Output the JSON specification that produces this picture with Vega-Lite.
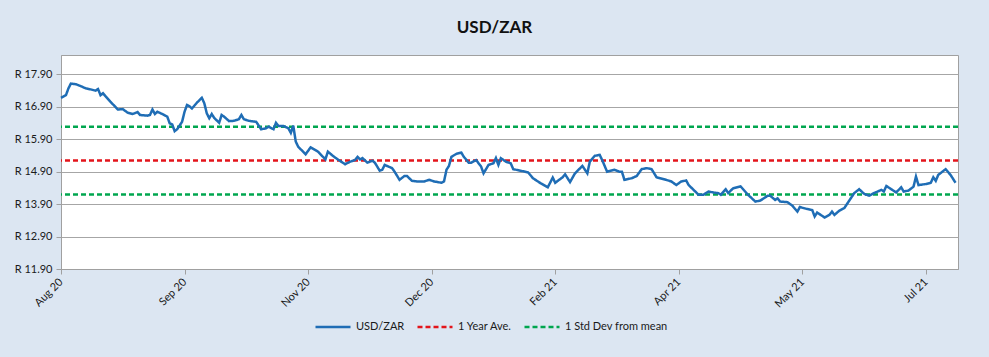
{
  "$schema": "https://vega.github.io/schema/vega-lite/v6.json",
  "width": 897,
  "height": 214,
  "autosize": {"type": "none"},
  "padding": {"left": 61, "top": 55, "right": 31, "bottom": 88},
  "background": "#dce6f2",
  "title": {"text": "USD/ZAR", "font": "Lato", "fontSize": 17, "fontWeight": "bold", "color": "#111111", "anchor": "middle", "offset": 18, "dx": -15},
  "config": {
    "font": "Lato",
    "view": {"fill": "white", "stroke": "#a0a0a0", "strokeWidth": 1}
  },
  "datasets": {
    "levels": [
      {"series": "1 Year Ave.", "value": 15.25},
      {"series": "1 Std Dev from mean", "value": 16.29},
      {"series": "1 Std Dev from mean", "value": 14.20}
    ],
    "fx": [
      {"date": "2020-08-03", "USD/ZAR": 17.18},
      {"date": "2020-08-05", "USD/ZAR": 17.26},
      {"date": "2020-08-06", "USD/ZAR": 17.47},
      {"date": "2020-08-07", "USD/ZAR": 17.62},
      {"date": "2020-08-09", "USD/ZAR": 17.60},
      {"date": "2020-08-11", "USD/ZAR": 17.54},
      {"date": "2020-08-13", "USD/ZAR": 17.47},
      {"date": "2020-08-15", "USD/ZAR": 17.44},
      {"date": "2020-08-17", "USD/ZAR": 17.40},
      {"date": "2020-08-18", "USD/ZAR": 17.45},
      {"date": "2020-08-19", "USD/ZAR": 17.26},
      {"date": "2020-08-20", "USD/ZAR": 17.32},
      {"date": "2020-08-21", "USD/ZAR": 17.23},
      {"date": "2020-08-23", "USD/ZAR": 17.06},
      {"date": "2020-08-26", "USD/ZAR": 16.82},
      {"date": "2020-08-28", "USD/ZAR": 16.83},
      {"date": "2020-08-30", "USD/ZAR": 16.72},
      {"date": "2020-09-01", "USD/ZAR": 16.68},
      {"date": "2020-09-03", "USD/ZAR": 16.74},
      {"date": "2020-09-04", "USD/ZAR": 16.65},
      {"date": "2020-09-07", "USD/ZAR": 16.63},
      {"date": "2020-09-08", "USD/ZAR": 16.65},
      {"date": "2020-09-09", "USD/ZAR": 16.82},
      {"date": "2020-09-10", "USD/ZAR": 16.68},
      {"date": "2020-09-11", "USD/ZAR": 16.75},
      {"date": "2020-09-13", "USD/ZAR": 16.68},
      {"date": "2020-09-15", "USD/ZAR": 16.60},
      {"date": "2020-09-16", "USD/ZAR": 16.39},
      {"date": "2020-09-17", "USD/ZAR": 16.36},
      {"date": "2020-09-18", "USD/ZAR": 16.15},
      {"date": "2020-09-19", "USD/ZAR": 16.21},
      {"date": "2020-09-21", "USD/ZAR": 16.44},
      {"date": "2020-09-22", "USD/ZAR": 16.75},
      {"date": "2020-09-23", "USD/ZAR": 16.96},
      {"date": "2020-09-24", "USD/ZAR": 16.92},
      {"date": "2020-09-25", "USD/ZAR": 16.85},
      {"date": "2020-09-27", "USD/ZAR": 17.03},
      {"date": "2020-09-29", "USD/ZAR": 17.18},
      {"date": "2020-09-30", "USD/ZAR": 17.01},
      {"date": "2020-10-01", "USD/ZAR": 16.70},
      {"date": "2020-10-02", "USD/ZAR": 16.55},
      {"date": "2020-10-03", "USD/ZAR": 16.68},
      {"date": "2020-10-04", "USD/ZAR": 16.56},
      {"date": "2020-10-06", "USD/ZAR": 16.41},
      {"date": "2020-10-07", "USD/ZAR": 16.65},
      {"date": "2020-10-08", "USD/ZAR": 16.60},
      {"date": "2020-10-10", "USD/ZAR": 16.46},
      {"date": "2020-10-12", "USD/ZAR": 16.47},
      {"date": "2020-10-14", "USD/ZAR": 16.52},
      {"date": "2020-10-15", "USD/ZAR": 16.65},
      {"date": "2020-10-16", "USD/ZAR": 16.52},
      {"date": "2020-10-18", "USD/ZAR": 16.47},
      {"date": "2020-10-21", "USD/ZAR": 16.44},
      {"date": "2020-10-23", "USD/ZAR": 16.21},
      {"date": "2020-10-25", "USD/ZAR": 16.24},
      {"date": "2020-10-26", "USD/ZAR": 16.29},
      {"date": "2020-10-28", "USD/ZAR": 16.21},
      {"date": "2020-10-29", "USD/ZAR": 16.41},
      {"date": "2020-10-30", "USD/ZAR": 16.31},
      {"date": "2020-11-01", "USD/ZAR": 16.31},
      {"date": "2020-11-03", "USD/ZAR": 16.24},
      {"date": "2020-11-04", "USD/ZAR": 16.10},
      {"date": "2020-11-05", "USD/ZAR": 16.32},
      {"date": "2020-11-06", "USD/ZAR": 15.83},
      {"date": "2020-11-07", "USD/ZAR": 15.67},
      {"date": "2020-11-10", "USD/ZAR": 15.44},
      {"date": "2020-11-12", "USD/ZAR": 15.65},
      {"date": "2020-11-15", "USD/ZAR": 15.52},
      {"date": "2020-11-18", "USD/ZAR": 15.28},
      {"date": "2020-11-19", "USD/ZAR": 15.52},
      {"date": "2020-11-21", "USD/ZAR": 15.39},
      {"date": "2020-11-23", "USD/ZAR": 15.28},
      {"date": "2020-11-26", "USD/ZAR": 15.13},
      {"date": "2020-11-28", "USD/ZAR": 15.21},
      {"date": "2020-11-30", "USD/ZAR": 15.26},
      {"date": "2020-12-01", "USD/ZAR": 15.36},
      {"date": "2020-12-02", "USD/ZAR": 15.28},
      {"date": "2020-12-03", "USD/ZAR": 15.32},
      {"date": "2020-12-05", "USD/ZAR": 15.18},
      {"date": "2020-12-07", "USD/ZAR": 15.24},
      {"date": "2020-12-08", "USD/ZAR": 15.18},
      {"date": "2020-12-10", "USD/ZAR": 14.93},
      {"date": "2020-12-11", "USD/ZAR": 14.96},
      {"date": "2020-12-12", "USD/ZAR": 15.11},
      {"date": "2020-12-15", "USD/ZAR": 15.01},
      {"date": "2020-12-16", "USD/ZAR": 14.90},
      {"date": "2020-12-18", "USD/ZAR": 14.65},
      {"date": "2020-12-20", "USD/ZAR": 14.77},
      {"date": "2020-12-21", "USD/ZAR": 14.77},
      {"date": "2020-12-23", "USD/ZAR": 14.62},
      {"date": "2020-12-25", "USD/ZAR": 14.60},
      {"date": "2020-12-28", "USD/ZAR": 14.60},
      {"date": "2020-12-30", "USD/ZAR": 14.65},
      {"date": "2021-01-01", "USD/ZAR": 14.60},
      {"date": "2021-01-04", "USD/ZAR": 14.56},
      {"date": "2021-01-05", "USD/ZAR": 14.60},
      {"date": "2021-01-06", "USD/ZAR": 14.96},
      {"date": "2021-01-07", "USD/ZAR": 15.08},
      {"date": "2021-01-08", "USD/ZAR": 15.36},
      {"date": "2021-01-10", "USD/ZAR": 15.45},
      {"date": "2021-01-12", "USD/ZAR": 15.49},
      {"date": "2021-01-13", "USD/ZAR": 15.36},
      {"date": "2021-01-15", "USD/ZAR": 15.18},
      {"date": "2021-01-16", "USD/ZAR": 15.18},
      {"date": "2021-01-18", "USD/ZAR": 15.26},
      {"date": "2021-01-20", "USD/ZAR": 15.06},
      {"date": "2021-01-21", "USD/ZAR": 14.85},
      {"date": "2021-01-23", "USD/ZAR": 15.11},
      {"date": "2021-01-25", "USD/ZAR": 15.16},
      {"date": "2021-01-26", "USD/ZAR": 15.32},
      {"date": "2021-01-27", "USD/ZAR": 15.11},
      {"date": "2021-01-28", "USD/ZAR": 15.32},
      {"date": "2021-01-30", "USD/ZAR": 15.21},
      {"date": "2021-02-01", "USD/ZAR": 15.16},
      {"date": "2021-02-02", "USD/ZAR": 14.98},
      {"date": "2021-02-05", "USD/ZAR": 14.93},
      {"date": "2021-02-08", "USD/ZAR": 14.88},
      {"date": "2021-02-10", "USD/ZAR": 14.70},
      {"date": "2021-02-13", "USD/ZAR": 14.55},
      {"date": "2021-02-16", "USD/ZAR": 14.42},
      {"date": "2021-02-18", "USD/ZAR": 14.72},
      {"date": "2021-02-19", "USD/ZAR": 14.56},
      {"date": "2021-02-22", "USD/ZAR": 14.73},
      {"date": "2021-02-23", "USD/ZAR": 14.82},
      {"date": "2021-02-25", "USD/ZAR": 14.58},
      {"date": "2021-02-27", "USD/ZAR": 14.85},
      {"date": "2021-03-02", "USD/ZAR": 15.08},
      {"date": "2021-03-04", "USD/ZAR": 14.85},
      {"date": "2021-03-05", "USD/ZAR": 15.21},
      {"date": "2021-03-07", "USD/ZAR": 15.39},
      {"date": "2021-03-09", "USD/ZAR": 15.42},
      {"date": "2021-03-10", "USD/ZAR": 15.26},
      {"date": "2021-03-12", "USD/ZAR": 14.90},
      {"date": "2021-03-15", "USD/ZAR": 14.96},
      {"date": "2021-03-17", "USD/ZAR": 14.90},
      {"date": "2021-03-18", "USD/ZAR": 14.90},
      {"date": "2021-03-19", "USD/ZAR": 14.65},
      {"date": "2021-03-22", "USD/ZAR": 14.70},
      {"date": "2021-03-24", "USD/ZAR": 14.77},
      {"date": "2021-03-26", "USD/ZAR": 14.98},
      {"date": "2021-03-28", "USD/ZAR": 15.01},
      {"date": "2021-03-30", "USD/ZAR": 14.98},
      {"date": "2021-04-01", "USD/ZAR": 14.73},
      {"date": "2021-04-04", "USD/ZAR": 14.67},
      {"date": "2021-04-07", "USD/ZAR": 14.60},
      {"date": "2021-04-09", "USD/ZAR": 14.49},
      {"date": "2021-04-11", "USD/ZAR": 14.60},
      {"date": "2021-04-13", "USD/ZAR": 14.63},
      {"date": "2021-04-14", "USD/ZAR": 14.49},
      {"date": "2021-04-16", "USD/ZAR": 14.34},
      {"date": "2021-04-18", "USD/ZAR": 14.19},
      {"date": "2021-04-20", "USD/ZAR": 14.19},
      {"date": "2021-04-22", "USD/ZAR": 14.29},
      {"date": "2021-04-24", "USD/ZAR": 14.26},
      {"date": "2021-04-26", "USD/ZAR": 14.24},
      {"date": "2021-04-27", "USD/ZAR": 14.19},
      {"date": "2021-04-29", "USD/ZAR": 14.36},
      {"date": "2021-04-30", "USD/ZAR": 14.24},
      {"date": "2021-05-02", "USD/ZAR": 14.39},
      {"date": "2021-05-05", "USD/ZAR": 14.45},
      {"date": "2021-05-08", "USD/ZAR": 14.19},
      {"date": "2021-05-11", "USD/ZAR": 13.98},
      {"date": "2021-05-13", "USD/ZAR": 14.01},
      {"date": "2021-05-16", "USD/ZAR": 14.16},
      {"date": "2021-05-17", "USD/ZAR": 14.16},
      {"date": "2021-05-19", "USD/ZAR": 14.03},
      {"date": "2021-05-20", "USD/ZAR": 14.08},
      {"date": "2021-05-21", "USD/ZAR": 13.98},
      {"date": "2021-05-24", "USD/ZAR": 13.96},
      {"date": "2021-05-26", "USD/ZAR": 13.85},
      {"date": "2021-05-28", "USD/ZAR": 13.67},
      {"date": "2021-05-29", "USD/ZAR": 13.81},
      {"date": "2021-06-01", "USD/ZAR": 13.75},
      {"date": "2021-06-03", "USD/ZAR": 13.72},
      {"date": "2021-06-04", "USD/ZAR": 13.52},
      {"date": "2021-06-05", "USD/ZAR": 13.64},
      {"date": "2021-06-08", "USD/ZAR": 13.49},
      {"date": "2021-06-10", "USD/ZAR": 13.57},
      {"date": "2021-06-11", "USD/ZAR": 13.67},
      {"date": "2021-06-12", "USD/ZAR": 13.57},
      {"date": "2021-06-14", "USD/ZAR": 13.70},
      {"date": "2021-06-16", "USD/ZAR": 13.78},
      {"date": "2021-06-18", "USD/ZAR": 14.01},
      {"date": "2021-06-20", "USD/ZAR": 14.24},
      {"date": "2021-06-22", "USD/ZAR": 14.36},
      {"date": "2021-06-24", "USD/ZAR": 14.22},
      {"date": "2021-06-26", "USD/ZAR": 14.16},
      {"date": "2021-06-28", "USD/ZAR": 14.24},
      {"date": "2021-07-01", "USD/ZAR": 14.34},
      {"date": "2021-07-02", "USD/ZAR": 14.29},
      {"date": "2021-07-03", "USD/ZAR": 14.46},
      {"date": "2021-07-05", "USD/ZAR": 14.36},
      {"date": "2021-07-07", "USD/ZAR": 14.26},
      {"date": "2021-07-09", "USD/ZAR": 14.42},
      {"date": "2021-07-10", "USD/ZAR": 14.29},
      {"date": "2021-07-12", "USD/ZAR": 14.32},
      {"date": "2021-07-14", "USD/ZAR": 14.44},
      {"date": "2021-07-15", "USD/ZAR": 14.75},
      {"date": "2021-07-16", "USD/ZAR": 14.49},
      {"date": "2021-07-19", "USD/ZAR": 14.52},
      {"date": "2021-07-21", "USD/ZAR": 14.56},
      {"date": "2021-07-22", "USD/ZAR": 14.73},
      {"date": "2021-07-23", "USD/ZAR": 14.62},
      {"date": "2021-07-24", "USD/ZAR": 14.80},
      {"date": "2021-07-27", "USD/ZAR": 14.98},
      {"date": "2021-07-29", "USD/ZAR": 14.80},
      {"date": "2021-07-31", "USD/ZAR": 14.56}
    ]
  },
  "encoding": {
    "y": {
      "field": "value",
      "type": "quantitative",
      "scale": {"domain": [11.9, 18.5], "nice": false, "zero": false},
      "axis": {
        "title": null,
        "values": [11.9, 12.9, 13.9, 14.9, 15.9, 16.9, 17.9],
        "labelExpr": "'R ' + format(datum.value, '.2f')",
        "grid": true,
        "gridColor": "#a6a6a6",
        "gridWidth": 1,
        "domainColor": "#a0a0a0",
        "tickColor": "#a0a0a0",
        "tickSize": 5,
        "labelPadding": 4,
        "labelFont": "Lato",
        "labelFontSize": 11,
        "labelColor": "#1a1a1a"
      }
    },
    "color": {
      "field": "series",
      "type": "nominal",
      "scale": {"domain": ["USD/ZAR", "1 Year Ave.", "1 Std Dev from mean"], "range": ["#1f6db5", "#e3141b", "#00a64f"]},
      "legend": {"orient": "none", "legendX": 253, "legendY": 253, "direction": "horizontal", "title": null, "symbolType": "stroke", "symbolSize": 1225, "symbolStrokeWidth": 2.5, "labelFont": "Lato", "labelFontSize": 11, "labelColor": "#1a1a1a", "columnPadding": 7, "labelOffset": 4}
    },
    "strokeDash": {
      "field": "series",
      "type": "nominal",
      "scale": {"domain": ["USD/ZAR", "1 Year Ave.", "1 Std Dev from mean"], "range": [[1, 0], [5, 3], [5, 3]]},
      "legend": {"orient": "none", "legendX": 253, "legendY": 253, "direction": "horizontal", "title": null, "symbolType": "stroke", "symbolSize": 1225, "symbolStrokeWidth": 2.5, "labelFont": "Lato", "labelFontSize": 11, "labelColor": "#1a1a1a", "columnPadding": 7, "labelOffset": 4}
    }
  },
  "layer": [
    {
      "data": {"name": "levels"},
      "mark": {"type": "rule", "strokeWidth": 2.5},
      "encoding": {}
    },
    {
      "data": {"name": "fx"},
      "transform": [{"fold": ["USD/ZAR"], "as": ["series", "value"]}],
      "mark": {"type": "line", "strokeWidth": 2.5},
      "encoding": {
        "x": {
          "field": "date",
          "type": "temporal",
          "scale": {"type": "utc", "domain": [{"year": 2020, "month": 8, "date": 3, "utc": true}, {"year": 2021, "month": 8, "date": 1, "utc": true}]},
          "axis": {
            "title": null,
            "values": [
              {"year": 2020, "month": 8, "date": 3, "utc": true},
              {"year": 2020, "month": 9, "date": 22, "utc": true},
              {"year": 2020, "month": 11, "date": 11, "utc": true},
              {"year": 2020, "month": 12, "date": 31, "utc": true},
              {"year": 2021, "month": 2, "date": 19, "utc": true},
              {"year": 2021, "month": 4, "date": 10, "utc": true},
              {"year": 2021, "month": 5, "date": 30, "utc": true},
              {"year": 2021, "month": 7, "date": 19, "utc": true}
            ],
            "format": "%b %y",
            "labelAngle": -45,
            "labelAlign": "right",
            "labelBaseline": "middle",
            "grid": false,
            "tickSize": 5,
            "labelPadding": 6,
            "domainColor": "#a0a0a0",
            "tickColor": "#a0a0a0",
            "labelFont": "Lato",
            "labelFontSize": 11,
            "labelColor": "#1a1a1a"
          }
        }
      }
    }
  ]
}
